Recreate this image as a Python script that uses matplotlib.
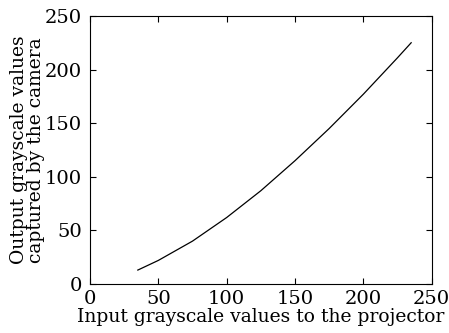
import numpy as np
import matplotlib.pyplot as plt

# values
input_gray = [35, 50, 75, 100, 125, 150, 175, 200, 225, 235]
output_gray = [13, 22, 40, 62, 87, 115, 145, 177, 211, 225]

xticks = [0, 50, 100, 150, 200, 250]
yticks = [0, 50, 100, 150, 200, 250]

plt.rcParams['font.family'] = 'DejaVu Serif'

fig = plt.figure(figsize=(4.49, 3.33), dpi=100)
ax = fig.add_axes([0.2004, 0.1471, 0.761, 0.805])
ax.plot(input_gray, output_gray, color='black', linewidth=0.9)

ax.set_xlim(0, 250)
ax.set_ylim(0, 250)
ax.set_xticks(xticks)
ax.set_yticks(yticks)
ax.tick_params(direction='in', top=True, right=True, length=4, width=0.8,
               labelsize=14)
ax.tick_params(axis='x', pad=4)
ax.tick_params(axis='y', pad=6)
for s in ax.spines.values():
    s.set_linewidth(0.8)

ax.set_xlabel('Input grayscale values to the projector', fontsize=13.5, labelpad=0)
ax.set_ylabel('Output grayscale values\ncaptured by the camera', fontsize=13.5,
              labelpad=0, linespacing=0.9)

fig.savefig('out.png', dpi=100)
